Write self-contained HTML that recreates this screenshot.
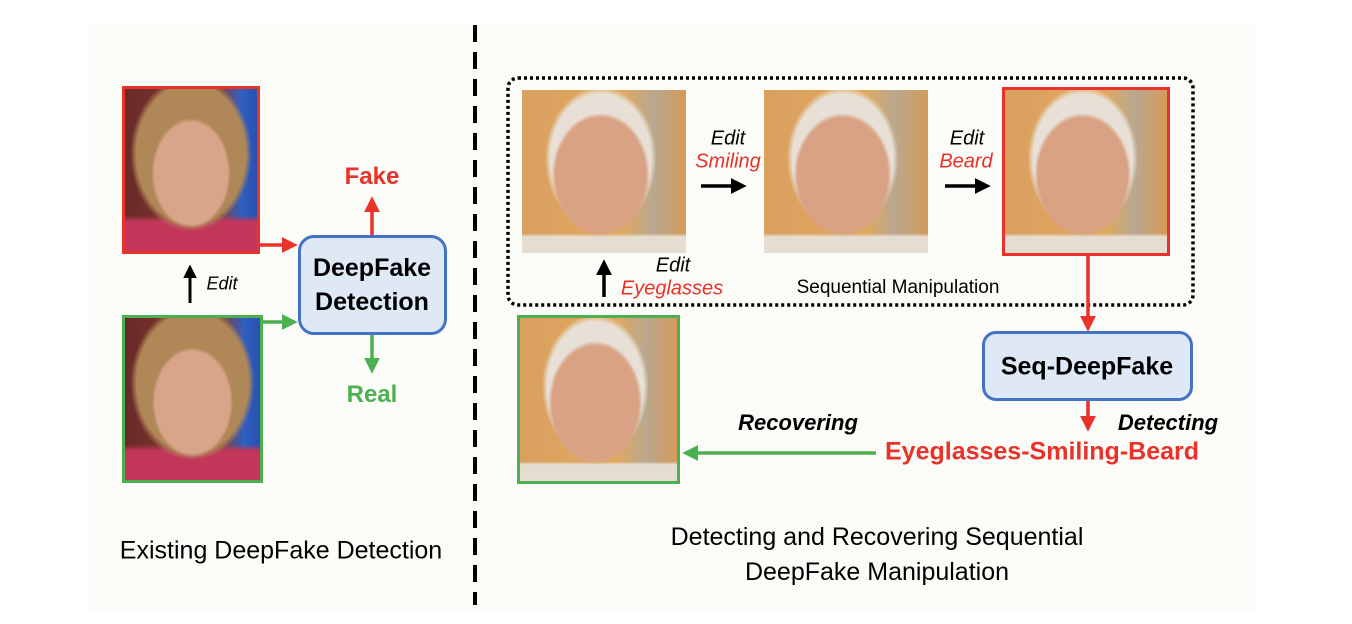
<!DOCTYPE html>
<html><head><meta charset="utf-8"><style>
body{margin:0;background:#fff;}
#c{position:relative;width:1352px;height:624px;overflow:hidden;font-family:"Liberation Sans",sans-serif;}
.a{position:absolute;}
.t{position:absolute;white-space:nowrap;transform:translate(-50%,-50%);}
.w{background:radial-gradient(ellipse 30% 34% at 50% 52%,#d9a58a 0 92%,transparent 100%),radial-gradient(ellipse 46% 48% at 50% 40%,#b08858 0 90%,transparent 100%),linear-gradient(180deg,transparent 78%,#c2365a 82%),linear-gradient(90deg,#6a2a28 0,#8a3b30 70%,#3060c0 88%,#2a50b0 100%);}
.m{background:radial-gradient(ellipse 30% 38% at 48% 52%,#d9a284 0 92%,transparent 100%),radial-gradient(ellipse 34% 44% at 48% 42%,#e8e0d6 0 90%,transparent 100%),linear-gradient(180deg,transparent 88%,#e4ddd0 90%),linear-gradient(90deg,#d9a060 0,#e3a85c 60%,#b9a890 80%,#d49a58 100%);}
</style></head><body><div id="c">
<div class="a" style="left:88px;top:25px;width:1167px;height:585px;background:#fbfbf7"></div>
<svg class="a" style="left:0;top:0" width="1352" height="624">
<defs>
<marker id="k" markerWidth="4.5" markerHeight="4.5" refX="2" refY="2.25" orient="auto"><path d="M0,0L4.5,2.25L0,4.5z" fill="#000"/></marker>
<marker id="r" markerWidth="4.5" markerHeight="4.5" refX="2" refY="2.25" orient="auto"><path d="M0,0L4.5,2.25L0,4.5z" fill="#e8322a"/></marker>
<marker id="g" markerWidth="4.5" markerHeight="4.5" refX="2" refY="2.25" orient="auto"><path d="M0,0L4.5,2.25L0,4.5z" fill="#4caf50"/></marker>
</defs>
<line x1="475" y1="25" x2="475" y2="605" stroke="#000" stroke-width="4" stroke-dasharray="17,10"/>
<rect x="508" y="78" width="685" height="227" rx="10" fill="none" stroke="#000" stroke-width="3.5" stroke-dasharray="3,3"/>
<line x1="190" y1="303" x2="190" y2="272" stroke="#000" stroke-width="3" marker-end="url(#k)"/>
<line x1="260" y1="245" x2="289" y2="245" stroke="#e8322a" stroke-width="3.5" marker-end="url(#r)"/>
<line x1="263" y1="322" x2="289" y2="322" stroke="#4caf50" stroke-width="3.5" marker-end="url(#g)"/>
<line x1="372" y1="235" x2="372" y2="205" stroke="#e8322a" stroke-width="3.5" marker-end="url(#r)"/>
<line x1="372" y1="335" x2="372" y2="365" stroke="#4caf50" stroke-width="3.5" marker-end="url(#g)"/>
<line x1="701" y1="186" x2="738" y2="186" stroke="#000" stroke-width="3.5" marker-end="url(#k)"/>
<line x1="945" y1="186" x2="982" y2="186" stroke="#000" stroke-width="3.5" marker-end="url(#k)"/>
<line x1="604" y1="297" x2="604" y2="268" stroke="#000" stroke-width="3.5" marker-end="url(#k)"/>
<line x1="1088" y1="256" x2="1088" y2="323" stroke="#e8322a" stroke-width="3.5" marker-end="url(#r)"/>
<line x1="1088" y1="401" x2="1088" y2="423" stroke="#e8322a" stroke-width="3.5" marker-end="url(#r)"/>
<line x1="876" y1="453" x2="691" y2="453" stroke="#4caf50" stroke-width="3.5" marker-end="url(#g)"/>
</svg>
<div class="a w" style="left:122px;top:86px;width:132px;height:162px;border:3px solid #e8322a"></div>
<div class="a w" style="left:122px;top:315px;width:135px;height:162px;border:3px solid #4caf50"></div>
<div class="a" style="left:298px;top:235px;width:143px;height:94px;border:3px solid #4472c4;border-radius:16px;background:#dfe8f5"></div>
<div class="t" style="left:372px;top:285px;font-size:25px;font-weight:bold;text-align:center;line-height:34px">DeepFake<br>Detection</div>
<div class="t" style="left:372px;top:177px;font-size:24px;font-weight:bold;color:#e8322a">Fake</div>
<div class="t" style="left:372px;top:395px;font-size:24px;font-weight:bold;color:#4caf50">Real</div>
<div class="t" style="left:222px;top:284px;font-size:18px;font-style:italic">Edit</div>
<div class="t" style="left:281px;top:551px;font-size:25px">Existing DeepFake Detection</div>
<div class="a m" style="left:522px;top:90px;width:164px;height:163px"></div>
<div class="a m" style="left:764px;top:90px;width:164px;height:163px"></div>
<div class="a m" style="left:1002px;top:87px;width:162px;height:163px;border:3px solid #e8322a"></div>
<div class="a m" style="left:517px;top:315px;width:157px;height:163px;border:3px solid #4caf50"></div>
<div class="t" style="left:728px;top:139px;font-size:20px;font-style:italic">Edit</div>
<div class="t" style="left:728px;top:162px;font-size:20px;font-style:italic;color:#e8322a">Smiling</div>
<div class="t" style="left:967px;top:139px;font-size:20px;font-style:italic">Edit</div>
<div class="t" style="left:966px;top:162px;font-size:20px;font-style:italic;color:#e8322a">Beard</div>
<div class="t" style="left:673px;top:266px;font-size:20px;font-style:italic">Edit</div>
<div class="t" style="left:672px;top:289px;font-size:20px;font-style:italic;color:#e8322a">Eyeglasses</div>
<div class="t" style="left:898px;top:288px;font-size:19px">Sequential Manipulation</div>
<div class="a" style="left:982px;top:331px;width:205px;height:64px;border:3px solid #4472c4;border-radius:14px;background:#dfe8f5"></div>
<div class="t" style="left:1087px;top:367px;font-size:25px;font-weight:bold">Seq-DeepFake</div>
<div class="t" style="left:1168px;top:423px;font-size:22px;font-weight:bold;font-style:italic">Detecting</div>
<div class="t" style="left:798px;top:423px;font-size:22px;font-weight:bold;font-style:italic">Recovering</div>
<div class="t" style="left:1042px;top:452px;font-size:25px;font-weight:bold;color:#e8322a">Eyeglasses-Smiling-Beard</div>
<div class="t" style="left:877px;top:555px;font-size:25px;text-align:center;line-height:35px">Detecting and Recovering Sequential<br>DeepFake Manipulation</div>
</div></body></html>
